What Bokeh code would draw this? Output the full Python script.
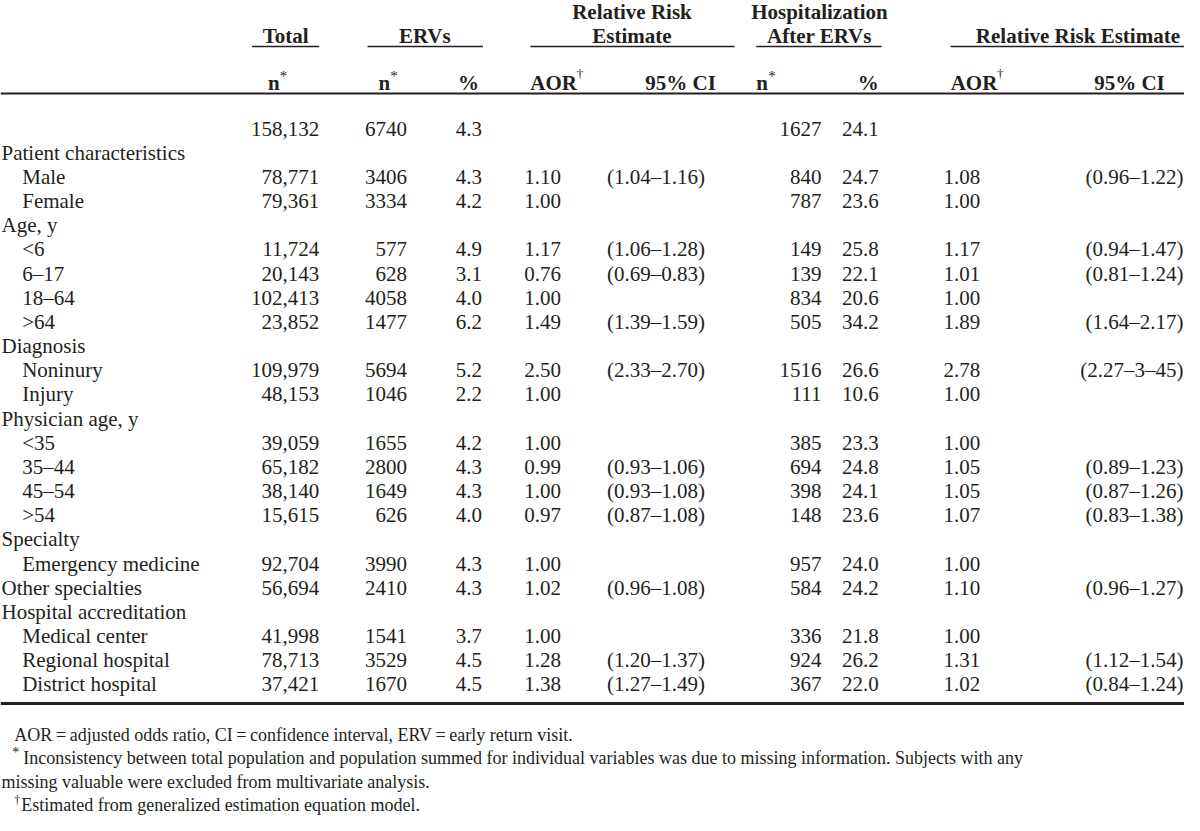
from bokeh.plotting import figure
from bokeh.models import Range1d, ColumnDataSource
from bokeh.core.properties import value
from bokeh.embed import file_html
from bokeh.resources import INLINE

# ---------------- data ----------------
labels = ["", "Patient characteristics", "Male", "Female", "Age, y", "<6", "6\u201317",
          "18\u201364", ">64", "Diagnosis", "Noninury", "Injury", "Physician age, y",
          "<35", "35\u201344", "45\u201354", ">54", "Specialty", "Emergency medicine",
          "Other specialties", "Hospital accreditation", "Medical center",
          "Regional hospital", "District hospital"]
indent = [0, 0, 1, 1, 0, 1, 1, 1, 1, 0, 1, 1, 0, 1, 1, 1, 1, 0, 1, 0, 0, 1, 1, 1]

total_n = ["158,132", "", "78,771", "79,361", "", "11,724", "20,143", "102,413", "23,852", "",
           "109,979", "48,153", "", "39,059", "65,182", "38,140", "15,615", "",
           "92,704", "56,694", "", "41,998", "78,713", "37,421"]
erv_n = ["6740", "", "3406", "3334", "", "577", "628", "4058", "1477", "",
         "5694", "1046", "", "1655", "2800", "1649", "626", "",
         "3990", "2410", "", "1541", "3529", "1670"]
erv_pct = ["4.3", "", "4.3", "4.2", "", "4.9", "3.1", "4.0", "6.2", "",
           "5.2", "2.2", "", "4.2", "4.3", "4.3", "4.0", "",
           "4.3", "4.3", "", "3.7", "4.5", "4.5"]
aor_erv = ["", "", "1.10", "1.00", "", "1.17", "0.76", "1.00", "1.49", "",
           "2.50", "1.00", "", "1.00", "0.99", "1.00", "0.97", "",
           "1.00", "1.02", "", "1.00", "1.28", "1.38"]
ci_erv = ["", "", "(1.04\u20131.16)", "", "", "(1.06\u20131.28)", "(0.69\u20130.83)", "", "(1.39\u20131.59)", "",
          "(2.33\u20132.70)", "", "", "", "(0.93\u20131.06)", "(0.93\u20131.08)", "(0.87\u20131.08)", "",
          "", "(0.96\u20131.08)", "", "", "(1.20\u20131.37)", "(1.27\u20131.49)"]
hosp_n = ["1627", "", "840", "787", "", "149", "139", "834", "505", "",
          "1516", "111", "", "385", "694", "398", "148", "",
          "957", "584", "", "336", "924", "367"]
hosp_pct = ["24.1", "", "24.7", "23.6", "", "25.8", "22.1", "20.6", "34.2", "",
            "26.6", "10.6", "", "23.3", "24.8", "24.1", "23.6", "",
            "24.0", "24.2", "", "21.8", "26.2", "22.0"]
aor_hosp = ["", "", "1.08", "1.00", "", "1.17", "1.01", "1.00", "1.89", "",
            "2.78", "1.00", "", "1.00", "1.05", "1.05", "1.07", "",
            "1.00", "1.10", "", "1.00", "1.31", "1.02"]
ci_hosp = ["", "", "(0.96\u20131.22)", "", "", "(0.94\u20131.47)", "(0.81\u20131.24)", "", "(1.64\u20132.17)", "",
           "(2.27\u20133\u201345)", "", "", "", "(0.89\u20131.23)", "(0.87\u20131.26)", "(0.83\u20131.38)", "",
           "", "(0.96\u20131.27)", "", "", "(1.12\u20131.54)", "(0.84\u20131.24)"]

footnotes = [
    "AOR\u2009=\u2009adjusted odds ratio, CI\u2009=\u2009confidence interval, ERV\u2009=\u2009early return visit.",
    "Inconsistency between total population and population summed for individual variables was due to missing information. Subjects with any",
    "missing valuable were excluded from multivariate analysis.",
    "Estimated from generalized estimation equation model.",
]

# ---------------- figure ----------------
FONT = value("Liberation Serif")
INK = "#231f20"

# 1:1 pixel mapping vertically (reference y + 3 on the page), slight squeeze horizontally
p = figure(width=1184, height=815, x_range=Range1d(0, 1200), y_range=Range1d(820, 5),
           output_backend="svg", toolbar_location=None, min_border=0)
p.axis.visible = False
p.xgrid.visible = False
p.ygrid.visible = False
p.outline_line_color = None
p.background_fill_color = "white"
p.border_fill_color = "white"


def txt(x, y, s, size=21, bold=False, align="left"):
    p.text(x=[x], y=[y], text=[s], text_font=FONT, text_font_size=f"{size}px",
           text_font_style="bold" if bold else "normal", text_align=align,
           text_baseline="alphabetic", text_color=INK)


# header texts
txt(289, 40, "Total", bold=True, align="center")
txt(430, 40, "ERVs", bold=True, align="center")
txt(640, 16, "Relative Risk", bold=True, align="center")
txt(640, 40, "Estimate", bold=True, align="center")
txt(830, 16, "Hospitalization", bold=True, align="center")
txt(830, 40, "After ERVs", bold=True, align="center")
txt(1092, 40, "Relative Risk Estimate", bold=True, align="center")

# sub headers
for xn in (271, 383, 766):
    txt(xn, 87, "n", bold=True)
    txt(xn + 12, 80, "*", size=15)
txt(485, 87, "%", bold=True, align="right")
txt(890, 87, "%", bold=True, align="right")
for xa in (537, 963):
    txt(xa, 87, "AOR", bold=True)
    txt(xa + 47, 78, "\u2020", size=13)
txt(725, 87, "95% CI", bold=True, align="right")
txt(1180, 87, "95% CI", bold=True, align="right")

# rules
p.segment(x0=[255, 372, 537, 766, 963], y0=[51] * 5, x1=[323, 489, 744, 893, 1200], y1=[51] * 5,
          line_color=INK, line_width=1.6)
p.segment(x0=[0], y0=[98], x1=[1200], y1=[98], line_color=INK, line_width=2)
p.segment(x0=[0], y0=[708], x1=[1200], y1=[708], line_color=INK, line_width=3)

# body
ROW0, STEP = 133, 24.17
ys = [ROW0 + STEP * i for i in range(len(labels))]

src = ColumnDataSource(dict(
    y=ys,
    lx=[22 if k else 1 for k in indent],
    label=labels, total_n=total_n, erv_n=erv_n, erv_pct=erv_pct, aor_erv=aor_erv,
    ci_erv=ci_erv, hosp_n=hosp_n, hosp_pct=hosp_pct, aor_hosp=aor_hosp, ci_hosp=ci_hosp,
))

common = dict(source=src, text_font=FONT, text_font_size="21px", text_color=INK,
              text_baseline="alphabetic")
p.text(x="lx", y="y", text="label", text_align="left", **common)
for col, xr in (("total_n", 323), ("erv_n", 412), ("erv_pct", 488), ("aor_erv", 568),
                ("ci_erv", 714), ("hosp_n", 832), ("hosp_pct", 890), ("aor_hosp", 993),
                ("ci_hosp", 1199)):
    p.text(x=xr, y="y", text=col, text_align="right", **common)

# footnotes
FN = 18
txt(14, 739, footnotes[0], size=FN)
txt(12, 757, "*", size=14)
txt(23, 762, footnotes[1], size=FN)
txt(1, 786, footnotes[2], size=FN)
txt(14, 804, "\u2020", size=12)
txt(21, 809, footnotes[3], size=FN)

open("out.html", "w").write(file_html(p, INLINE))
